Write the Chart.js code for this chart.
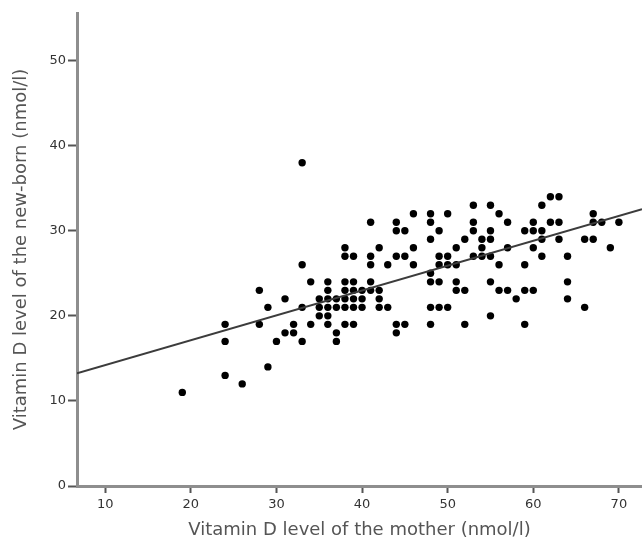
<!DOCTYPE html>
<html>
<head>
<meta charset="utf-8">
<script src="https://cdn.jsdelivr.net/npm/chart.js@4/dist/chart.umd.min.js"></script>
<style>
  html, body { margin: 0; padding: 0; background: #ffffff; }
  #wrap { width: 642px; height: 551px; }
</style>
</head>
<body>
<div id="wrap"><canvas id="c" width="642" height="551"></canvas></div>
<script>
// Vitamin D level of the mother (nmol/l)
const motherLevel = [
  33,
  62, 63,
  53, 55, 61,
  46, 48, 50, 56, 67,
  41, 44, 48, 53, 57, 60, 62, 63, 67, 68, 70,
  44, 45, 49, 53, 55, 59, 60, 61,
  48, 52, 54, 55, 61, 63, 66, 67,
  38, 42, 46, 51, 54, 57, 60, 69,
  38, 39, 41, 44, 45, 49, 50, 53, 54, 55, 61, 64,
  33, 41, 43, 46, 49, 50, 51, 56, 59,
  48,
  34, 36, 38, 39, 41, 48, 49, 51, 55, 64,
  28, 36, 38, 39, 40, 41, 42, 51, 52, 56, 57, 59, 60,
  31, 35, 36, 37, 38, 39, 40, 42, 58, 64,
  29, 33, 35, 36, 37, 38, 39, 40, 42, 43, 48, 49, 50, 66,
  35, 36, 55,
  24, 28, 32, 34, 36, 38, 39, 44, 45, 48, 52, 59,
  31, 32, 37, 44,
  24, 30, 33, 37,
  29,
  24,
  26,
  19
];
// Vitamin D level of the new-born (nmol/l)
const newbornLevel = [
  38,
  34, 34,
  33, 33, 33,
  32, 32, 32, 32, 32,
  31, 31, 31, 31, 31, 31, 31, 31, 31, 31, 31,
  30, 30, 30, 30, 30, 30, 30, 30,
  29, 29, 29, 29, 29, 29, 29, 29,
  28, 28, 28, 28, 28, 28, 28, 28,
  27, 27, 27, 27, 27, 27, 27, 27, 27, 27, 27, 27,
  26, 26, 26, 26, 26, 26, 26, 26, 26,
  25,
  24, 24, 24, 24, 24, 24, 24, 24, 24, 24,
  23, 23, 23, 23, 23, 23, 23, 23, 23, 23, 23, 23, 23,
  22, 22, 22, 22, 22, 22, 22, 22, 22, 22,
  21, 21, 21, 21, 21, 21, 21, 21, 21, 21, 21, 21, 21, 21,
  20, 20, 20,
  19, 19, 19, 19, 19, 19, 19, 19, 19, 19, 19, 19,
  18, 18, 18, 18,
  17, 17, 17, 17,
  14,
  13,
  12,
  11
];
// Linear fit line: [intercept, slope]
const fitLine = [11.3, 0.292];

const xTicks = [10, 20, 30, 40, 50, 60, 70];
const yTicks = [0, 10, 20, 30, 40, 50];
const xRange = [6.7, 72.7];
const yRange = [0, 55.6];

const xTitle = 'Vitamin D level of the mother (nmol/l)';
const yTitle = 'Vitamin D level of the new-born (nmol/l)';

const points = motherLevel.map((m, i) => ({ x: m, y: newbornLevel[i] }));
const fitPoints = xRange.map(x => ({ x: x, y: fitLine[0] + fitLine[1] * x }));

const tickFont = { family: 'DejaVu Sans', size: 13 };
const titleFont = { family: 'DejaVu Sans', size: 18 };

new Chart(document.getElementById('c'), {
  type: 'scatter',
  data: {
    datasets: [
      {
        data: fitPoints,
        showLine: true,
        borderColor: '#3c3c3c',
        borderWidth: 2,
        pointRadius: 0,
        fill: false
      },
      {
        data: points,
        backgroundColor: '#000000',
        borderColor: '#000000',
        borderWidth: 0,
        pointRadius: 3.7
      }
    ]
  },
  options: {
    responsive: false,
    animation: false,
    devicePixelRatio: 1,
    layout: { autoPadding: false, padding: { top: 13, right: 0, left: 0, bottom: 0 } },
    plugins: { legend: { display: false }, tooltip: { enabled: false } },
    scales: {
      x: {
        type: 'linear',
        min: xRange[0],
        max: xRange[1],
        afterBuildTicks: s => { s.ticks = xTicks.map(v => ({ value: v })); },
        afterFit: s => { s.height = 65; s.paddingLeft = 0; s.paddingRight = 0; },
        grid: { drawOnChartArea: false, drawTicks: true, tickLength: 7, tickColor: '#555555', tickWidth: 2 },
        border: { display: true, color: '#8e8e8e', width: 3 },
        ticks: { font: tickFont, color: '#333333', padding: 4, maxRotation: 0 },
        title: { display: true, text: xTitle, font: titleFont, color: '#555555', padding: { top: 4, bottom: 10 } }
      },
      y: {
        type: 'linear',
        min: yRange[0],
        max: yRange[1],
        afterBuildTicks: s => { s.ticks = yTicks.map(v => ({ value: v })); },
        afterFit: s => { s.width = 77; s.paddingTop = 0; s.paddingBottom = 0; },
        grid: { drawOnChartArea: false, drawTicks: true, tickLength: 9, tickColor: '#555555', tickWidth: 2 },
        border: { display: true, color: '#8e8e8e', width: 3 },
        ticks: { font: tickFont, color: '#333333', padding: 2 },
        title: { display: true, text: yTitle, font: titleFont, color: '#555555', padding: { top: 11, bottom: 4 } }
      }
    }
  }
});
</script>
</body>
</html>
